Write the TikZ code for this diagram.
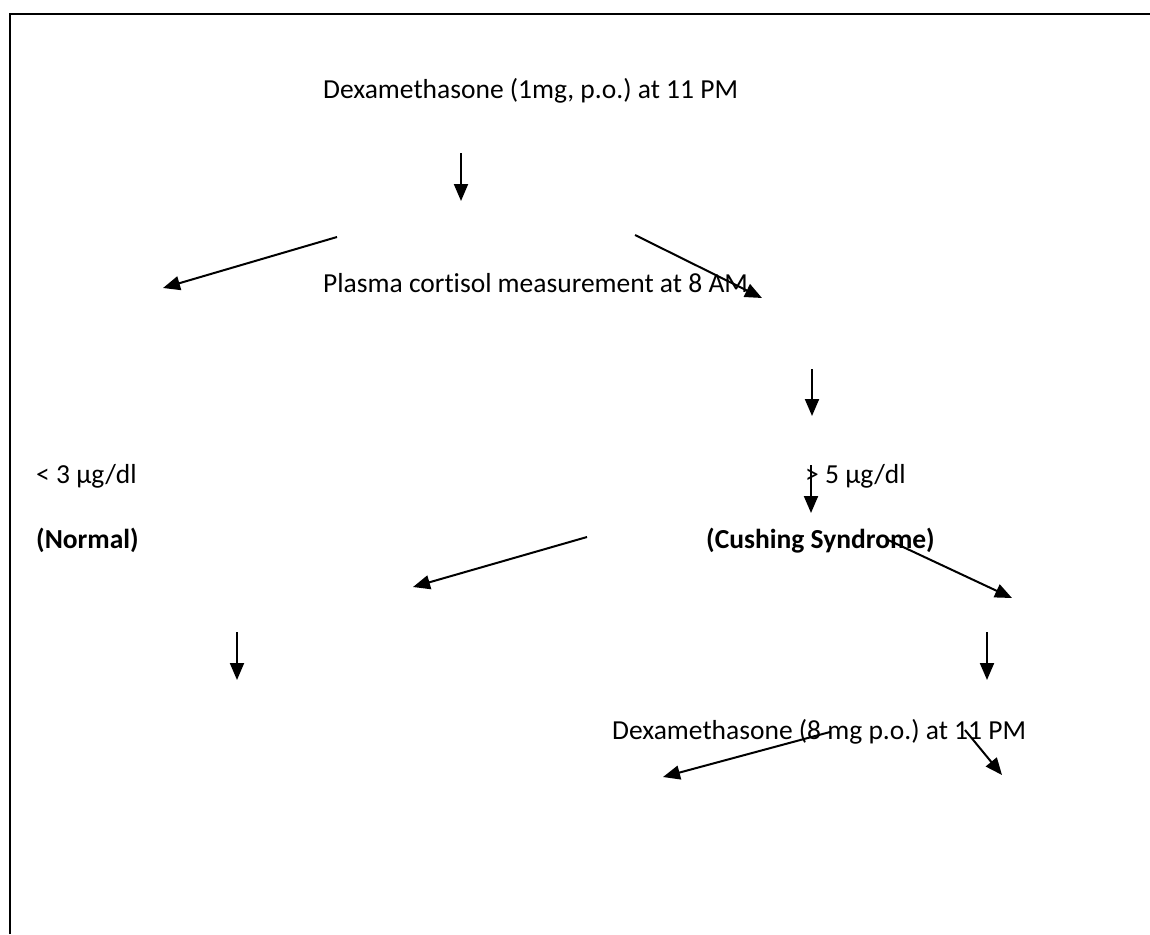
\documentclass[tikz,border=0pt]{standalone}
\usepackage{fontspec}
\setmainfont{Carlito}[Ligatures=NoCommon]
\usepackage{tikz}
\usetikzlibrary{arrows.meta,calc,positioning}
\tikzstyle{lbl}=[anchor=base west,inner sep=0pt,font=\fontsize{27.5}{32}\selectfont\frenchspacing]
\tikzstyle{arr}=[line width=2pt,-{Triangle[length=17pt,width=14pt]}]
\begin{document}
\begin{tikzpicture}[x=1pt,y=-1pt]
  \useasboundingbox (0,0) rectangle (1150,934);
  % frame
  \draw[line width=2.2pt] (10,934) -- (10,14) -- (1150,14);
  % first test
  \node[lbl] (dex1) at (323,98) {Dexamethasone (1mg, p.o.) at 11 PM};
  \node[lbl] (plasma) at (323,292) {Plasma cortisol measurement at 8 AM};
  \coordinate (d1a) at (461,153);
  \coordinate (d1b) at (461,201);
  \draw[arr] (d1a) -- (d1b);
  \coordinate (la) at (337,237);
  \coordinate (lb) at (163,288);
  \draw[arr] (la) -- (lb);
  \coordinate (ra) at (635,235);
  \coordinate (rb) at (762,298);
  \draw[arr] (ra) -- (rb);
  \coordinate (d2a) at (812,369);
  \coordinate (d2b) at (812,416);
  \draw[arr] (d2a) -- (d2b);
  % results
  \node[lbl] (low) at (36,483) {< 3 µg/dl};
  \node[lbl] (high) at (805,483) {> 5 µg/dl};
  \node[lbl,font=\fontsize{27.5}{32}\selectfont\bfseries] (normal) at (36,548) {(Normal)};
  \node[lbl,font=\fontsize{27.5}{32}\selectfont\bfseries] (cushing) at (706,548) {(Cushing Syndrome)};
  \coordinate (d3a) at (811,465);
  \coordinate (d3b) at (811,513);
  \draw[arr] (d3a) -- (d3b);
  \coordinate (l2a) at (587,537);
  \coordinate (l2b) at (413,587);
  \draw[arr] (l2a) -- (l2b);
  \coordinate (r2a) at (886,539);
  \coordinate (r2b) at (1012,598);
  \draw[arr] (r2a) -- (r2b);
  \coordinate (d4a) at (237,632);
  \coordinate (d4b) at (237,680);
  \draw[arr] (d4a) -- (d4b);
  \coordinate (d5a) at (987,632);
  \coordinate (d5b) at (987,680);
  \draw[arr] (d5a) -- (d5b);
  % second test
  \node[lbl] (dex8) at (612,739) {Dexamethasone (8 mg p.o.) at 11 PM};
  \coordinate (l3a) at (830,732);
  \coordinate (l3b) at (663,777);
  \draw[arr] (l3a) -- (l3b);
  \coordinate (r3a) at (965,730);
  \coordinate (r3b) at (1002,775);
  \draw[arr] (r3a) -- (r3b);
\end{tikzpicture}
\end{document}
